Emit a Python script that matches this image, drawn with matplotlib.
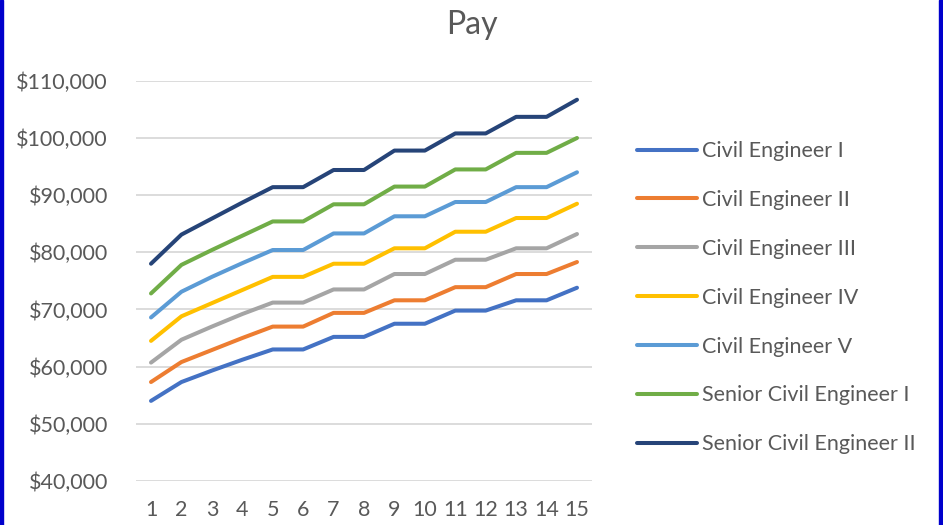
import numpy as np
import matplotlib.pyplot as plt
from matplotlib.ticker import FuncFormatter
from matplotlib.patches import Rectangle

# steps 1..15 and the pay for each grade
steps = list(range(1, 16))
names = ['Civil Engineer I', 'Civil Engineer II', 'Civil Engineer III',
         'Civil Engineer IV', 'Civil Engineer V', 'Senior Civil Engineer I',
         'Senior Civil Engineer II']

ce1 = [54000, 57300, 59300, 61200, 63000, 63000, 65200, 65200, 67500, 67500,
       69800, 69800, 71600, 71600, 73800]
ce2 = [57300, 60800, 62900, 65000, 67000, 67000, 69400, 69400, 71600, 71600,
       73900, 73900, 76200, 76200, 78300]
ce3 = [60700, 64700, 67000, 69200, 71200, 71200, 73500, 73500, 76200, 76200,
       78700, 78700, 80700, 80700, 83200]
ce4 = [64500, 68800, 71100, 73400, 75700, 75700, 78000, 78000, 80700, 80700,
       83600, 83600, 86000, 86000, 88500]
ce5 = [68600, 73100, 75700, 78100, 80400, 80400, 83300, 83300, 86300, 86300,
       88800, 88800, 91400, 91400, 94000]
sce1 = [72800, 77800, 80400, 82900, 85400, 85400, 88400, 88400, 91500, 91500,
        94500, 94500, 97400, 97400, 100000]
sce2 = [78000, 83100, 85900, 88700, 91400, 91400, 94400, 94400, 97800, 97800,
        100800, 100800, 103700, 103700, 106700]

series = [ce1, ce2, ce3, ce4, ce5, sce1, sce2]
colors = ['#4472C4', '#ED7D31', '#A5A5A5', '#FFC000', '#5B9BD5', '#70AD47',
          '#264478']

plt.rcParams['font.family'] = ['Lato', 'DejaVu Sans']
txtColor = '#595959'

fig = plt.figure(figsize=(9.43, 5.25), dpi=100)
ax = fig.add_axes([0.144, 0.084, 0.484, 0.762])

for vals, c, n in zip(series, colors, names):
    ax.plot(steps, vals, color=c, lw=2.9, label=n, solid_capstyle='round')

ax.set_xlim(0.5, 15.5)
ax.set_ylim(40000, 110000)
ax.set_yticks(np.arange(40000, 110001, 10000))
ax.set_xticks(steps)
ax.yaxis.set_major_formatter(FuncFormatter(lambda v, p: '${:,.0f}'.format(v)))
ax.yaxis.grid(True, color='#D9D9D9', lw=1.3)
ax.set_axisbelow(True)
for s in ax.spines.values():
    s.set_visible(False)
ax.tick_params(length=0, labelsize=15.5, labelcolor=txtColor)
ax.tick_params(axis='y', pad=20)
ax.tick_params(axis='x', pad=14)

fig.text(0.5, 0.952, 'Pay', ha='center', va='center', fontsize=23,
         color=txtColor)

leg = ax.legend(loc='center left', bbox_to_anchor=(0.655, 0.433),
                bbox_transform=fig.transFigure, frameon=False, fontsize=15.5,
                handlelength=2.8, handletextpad=0.2, labelspacing=1.34)
for t in leg.get_texts():
    t.set_color(txtColor)

# blue frame on left and right edges
fig.patches.append(Rectangle((0, 0), 3 / 943, 1, transform=fig.transFigure,
                             color='#0000CC', zorder=10))
fig.patches.append(Rectangle((1 - 4 / 943, 0), 4 / 943, 1,
                             transform=fig.transFigure, color='#0000CC',
                             zorder=10))

fig.savefig('out.png', dpi=100)
